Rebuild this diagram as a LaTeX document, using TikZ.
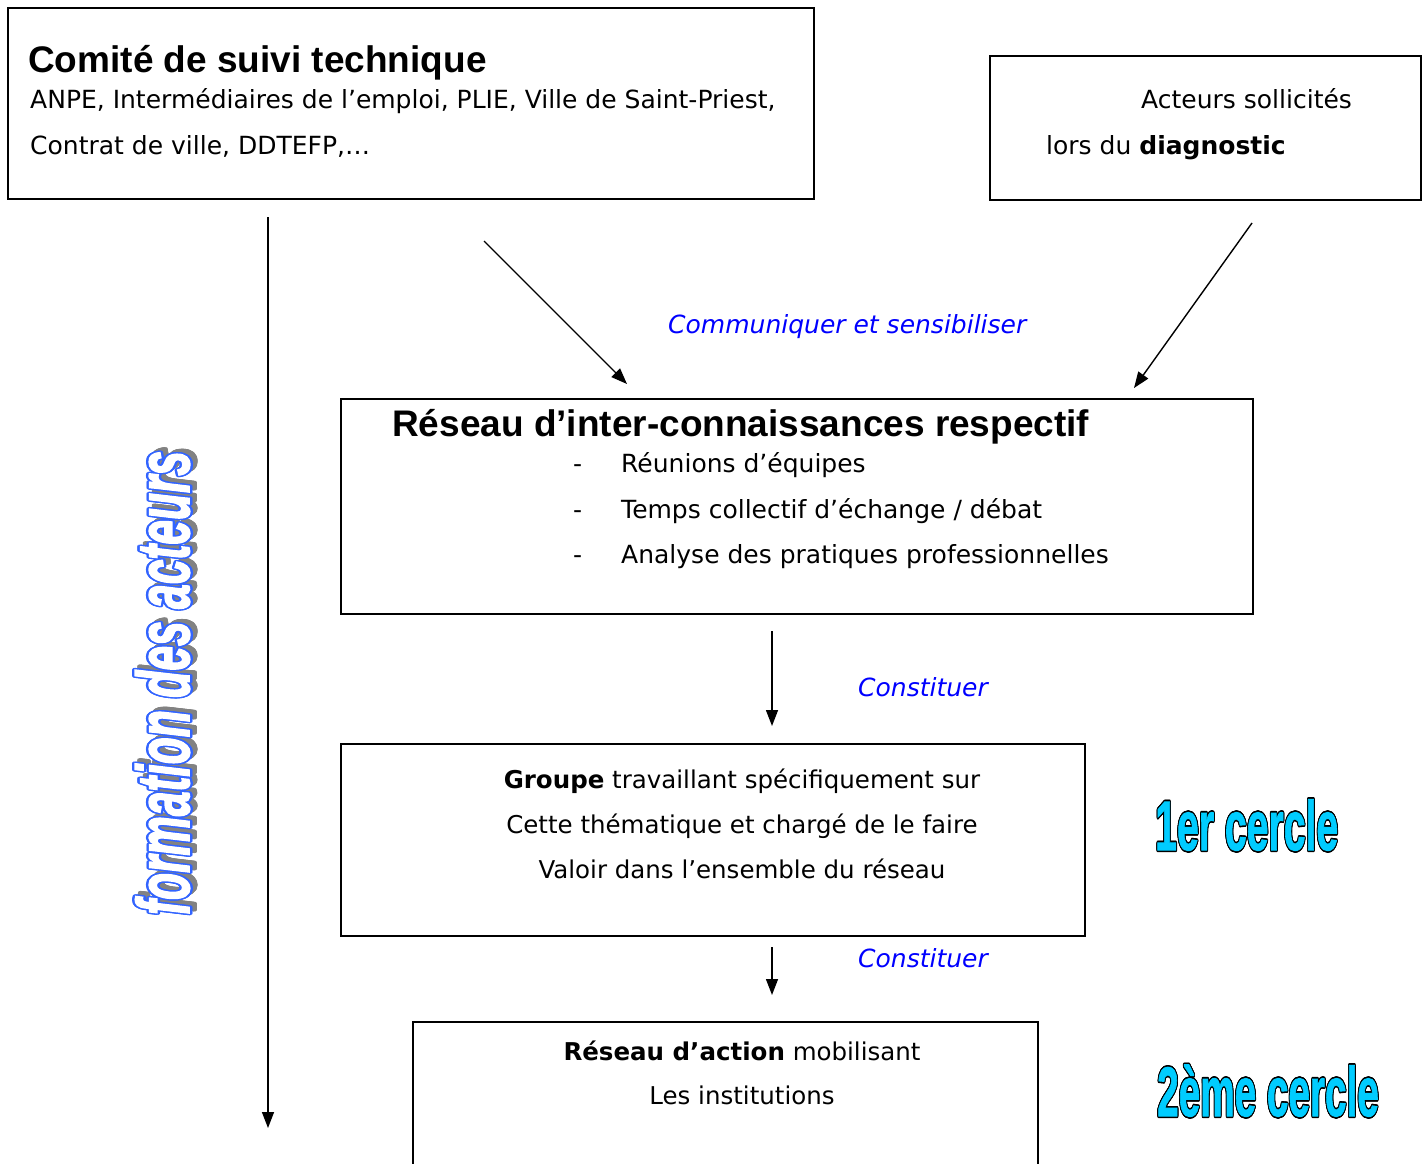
\documentclass[tikz,border=0pt]{standalone}
\usepackage{fontspec}
\setmainfont{DejaVu Sans}
\newfontfamily\arialf{Liberation Sans}
\newfontface\heavyit{Liberation Sans Bold Italic}[FakeBold=2.5]
\newfontface\heavyup{Liberation Sans Bold}[FakeBold=1.5]
\usetikzlibrary{arrows.meta}
\definecolor{lblue}{RGB}{0,0,255}
\definecolor{wcyan}{RGB}{0,204,255}
\definecolor{wblue}{RGB}{50,100,255}
\definecolor{wshadow}{RGB}{130,130,130}
\newcommand\outtext[4]{%
  \foreach \oa in {0,30,...,330}{%
    \pgfmathsetlengthmacro\ox{#3*cos(\oa)}%
    \pgfmathsetlengthmacro\oy{#3*sin(\oa)}%
    \rlap{\hspace*{\ox}\raisebox{\oy}{\color{#1}#4}}}%
  {\color{#2}#4}}
\begin{document}
\begin{tikzpicture}[x=1pt,y=-1pt,
  box/.style={draw, line width=1.8pt, anchor=north west, inner sep=0pt},
  arr/.style={line width=1.4pt, -{Triangle[length=16pt,width=12pt]}},
  txt/.style={anchor=base west, inner sep=0pt, font=\fontsize{25}{30}\selectfont},
  ctxt/.style={anchor=base, inner sep=0pt, font=\fontsize{24.5}{30}\selectfont},
  ttl/.style={anchor=base west, inner sep=0pt, font=\arialf\bfseries\fontsize{37}{42}\selectfont},
  verb/.style={anchor=base west, inner sep=0pt, text=lblue, font=\itshape\fontsize{25}{30}\selectfont},
  art/.style={anchor=base west, inner sep=0pt, font=\heavyup\fontsize{70}{80}\selectfont}]
\useasboundingbox (0,0) rectangle (1426,1163);
\fill[white] (0,0) rectangle (1426,1163);
% boxes
\node[box, minimum width=806pt, minimum height=191pt] (b1) at (7,7) {};
\node[box, minimum width=431pt, minimum height=144pt] (b2) at (989,55) {};
\node[box, minimum width=912pt, minimum height=215pt] (b3) at (340,398) {};
\node[box, minimum width=744pt, minimum height=192pt] (b4) at (340,743) {};
\node[box, minimum width=625pt, minimum height=170pt] (b5) at (412,1021) {};
% box 1 text
\node[ttl] (t1) at (28,72) {Comité de suivi technique};
\node[txt] (t1a) at (30,108) {ANPE, Intermédiaires de l’emploi, PLIE, Ville de Saint-Priest,};
\node[txt] (t1b) at (30,154) {Contrat de ville, DDTEFP,…};
% box 2 text
\node[txt] (t2a) at (1141,108) {Acteurs sollicités};
\node[txt] (t2b) at (1046,154) {lors du \textbf{diagnostic}};
% box 3 text
\node[ttl] (t3) at (392,436) {Réseau d’inter-connaissances respectif};
\node[txt] (d1) at (573,472) {-};
\node[txt] (i1) at (621,472) {Réunions d’équipes};
\node[txt] (d2) at (573,518) {-};
\node[txt] (i2) at (621,518) {Temps collectif d’échange / débat};
\node[txt] (d3) at (573,563) {-};
\node[txt] (i3) at (621,563) {Analyse des pratiques professionnelles};
% box 4 text
\node[ctxt] (t4a) at (742,788) {\textbf{Groupe} travaillant spécifiquement sur};
\node[ctxt] (t4b) at (742,833) {Cette thématique et chargé de le faire};
\node[ctxt] (t4c) at (742,878) {Valoir dans l’ensemble du réseau};
% box 5 text
\node[ctxt] (t5a) at (742,1060) {\textbf{Réseau d’action} mobilisant};
\node[ctxt] (t5b) at (742,1104) {Les institutions};
% verbs
\node[verb] (v1) at (668,333) {Communiquer et sensibiliser};
\node[verb] (v2) at (858,696) {Constituer};
\node[verb] (v3) at (858,967) {Constituer};
% arrows
\coordinate (a0s) at (268,217); \coordinate (a0e) at (268,1128);
\coordinate (a1s) at (484,241); \coordinate (a1e) at (627,384);
\coordinate (a2s) at (1252,223); \coordinate (a2e) at (1134,388);
\coordinate (a3s) at (772,631); \coordinate (a3e) at (772,726);
\coordinate (a4s) at (772,947); \coordinate (a4e) at (772,995);
\draw[arr] (a0s) -- (a0e);
\draw[arr] (a1s) -- (a1e);
\draw[arr] (a2s) -- (a2e);
\draw[arr] (a3s) -- (a3e);
\draw[arr] (a4s) -- (a4e);
% word art
\node[art] (c1) at (1155,850) {\scalebox{0.56}[1]{\outtext{black}{wcyan}{1.6}{1er cercle}}};
\node[art] (c2) at (1157,1116) {\scalebox{0.553}[1]{\outtext{black}{wcyan}{1.6}{2ème cercle}}};
\node[anchor=base west, inner sep=0pt, rotate=90, font=\heavyit\fontsize{74}{80}\selectfont] (fa) at (189,915)
  {\scalebox{0.6}[1]{\rlap{\hspace*{6pt}\raisebox{-5pt}{\outtext{wshadow}{wshadow}{2}{formation des acteurs}}}\outtext{wblue}{white}{2.4}{formation des acteurs}}};
\end{tikzpicture}
\end{document}
